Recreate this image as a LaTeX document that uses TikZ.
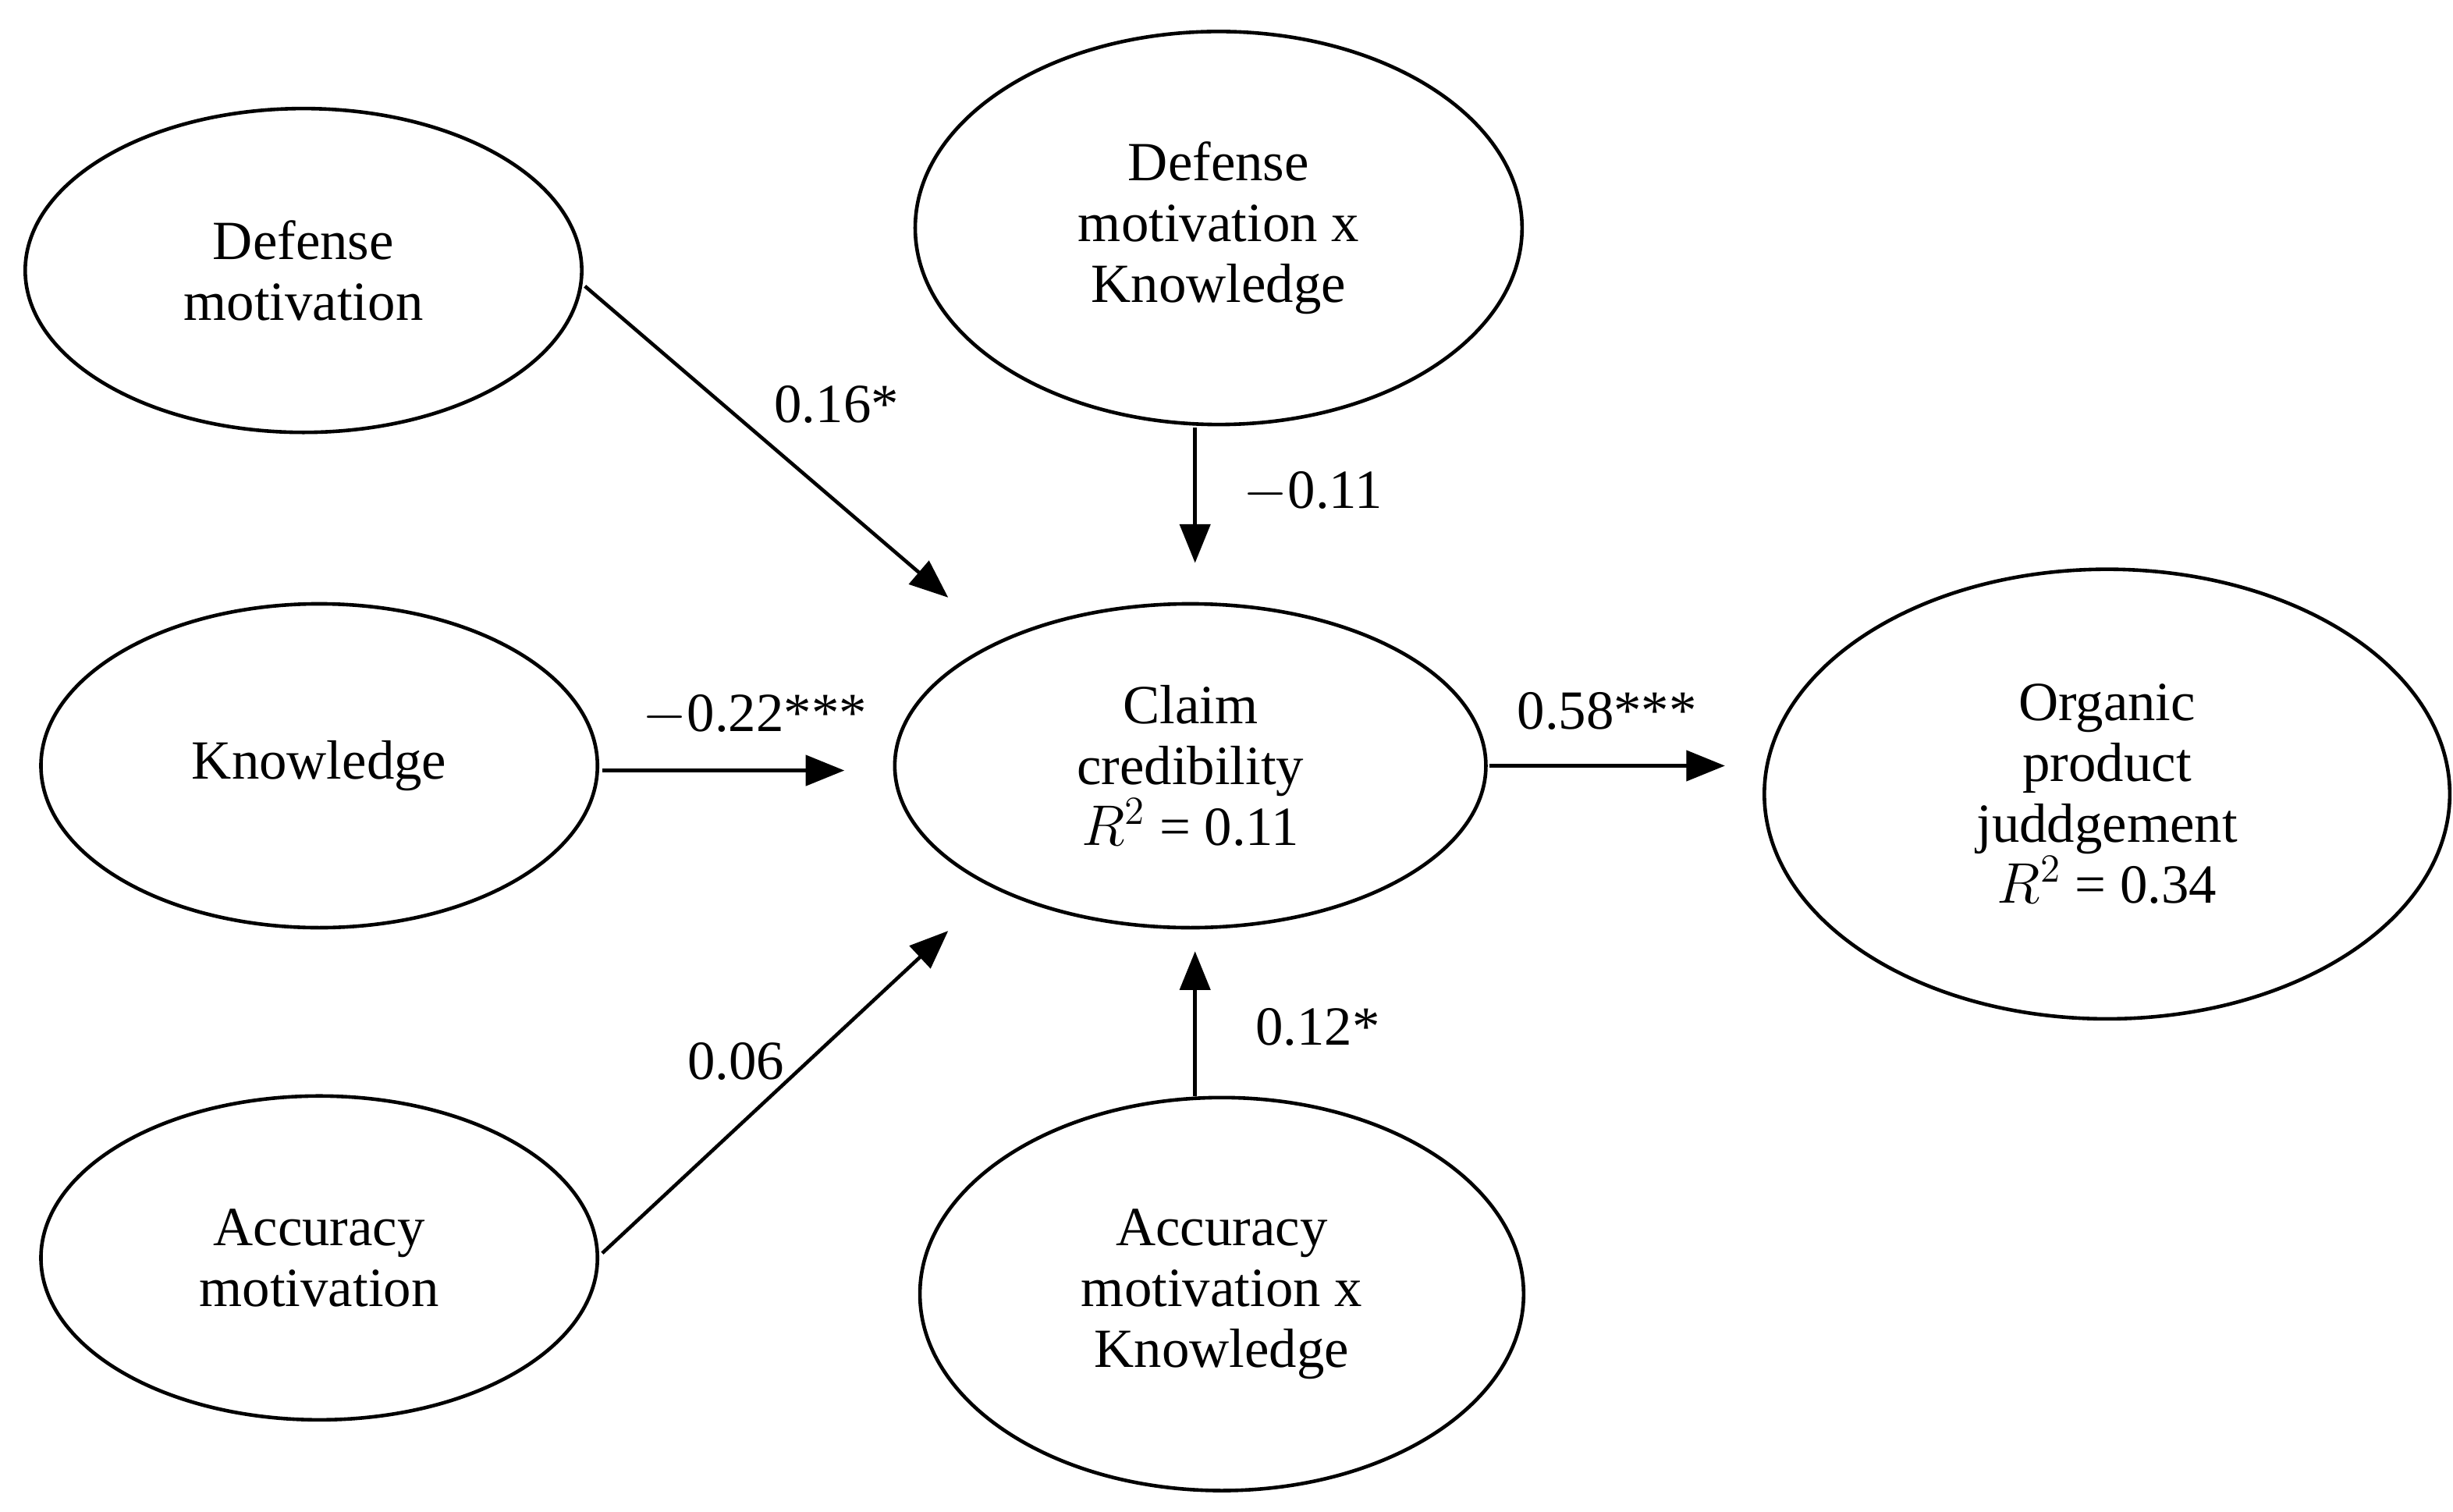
\documentclass[tikz,border=0pt]{standalone}
\usepackage{fontspec}
\setmainfont{Liberation Serif}
\usetikzlibrary{shapes.geometric,arrows.meta}
\begin{document}
\begin{tikzpicture}[x=0.02cm,y=-0.02cm,
  el/.style={draw,line width=1.3pt,ellipse,minimum width=#1},
  lab/.style={font=\fontsize{20}{22}\selectfont},
  arr/.style={line width=1.3pt,-{Triangle[length=14pt,width=11pt]}},
  every node/.style={font=\fontsize{20}{22}\selectfont,align=center}]
\useasboundingbox (0,0) rectangle (1560,961.6);
\node[draw,line width=1.3pt,ellipse,minimum width=354\pgflinewidth,inner sep=0pt,minimum width=7.08cm,minimum height=4.12cm] (dm) at (193,172) {Defense\\motivation};
\node[draw,line width=1.3pt,ellipse,inner sep=0pt,minimum width=7.08cm,minimum height=4.12cm] (kn) at (203,487) {Knowledge};
\node[draw,line width=1.3pt,ellipse,inner sep=0pt,minimum width=7.08cm,minimum height=4.12cm] (am) at (203,800) {Accuracy\\motivation};
\node[draw,line width=1.3pt,ellipse,inner sep=0pt,minimum width=7.72cm,minimum height=5.0cm] (dk) at (775,145) {Defense\\motivation x\\Knowledge};
\node[draw,line width=1.3pt,ellipse,inner sep=0pt,minimum width=7.52cm,minimum height=4.12cm] (cc) at (757,487) {Claim\\credibility\\$R^2$ = 0.11};
\node[draw,line width=1.3pt,ellipse,inner sep=0pt,minimum width=7.68cm,minimum height=5.0cm] (ak) at (777,823) {Accuracy\\motivation x\\Knowledge};
\node[draw,line width=1.3pt,ellipse,inner sep=0pt,minimum width=8.72cm,minimum height=5.72cm] (og) at (1340,505) {Organic\\product\\juddgement\\$R^2$ = 0.34};
\coordinate (e1) at (603,380);
\coordinate (e2) at (537,490);
\coordinate (e3) at (603,592);
\coordinate (e4) at (760,358);
\coordinate (e5) at (760,605);
\coordinate (e6) at (1097,487);
\coordinate (s4) at (760,272);
\coordinate (s5) at (760,697);
\coordinate (s1) at (372,182);
\coordinate (s2) at (383,490);
\coordinate (s3) at (383,797);
\coordinate (s6) at (947,487);
\draw[arr] (s1) -- (e1);
\draw[arr] (s2) -- (e2);
\draw[arr] (s3) -- (e3);
\draw[arr] (s4) -- (e4);
\draw[arr] (s5) -- (e5);
\draw[arr] (s6) -- (e6);
\node at (532,257) {0.16*};
\node at (480,455) {$-$0.22***};
\node at (468,675) {0.06};
\node at (835,313) {$-$0.11};
\node at (838,653) {0.12*};
\node at (1022,452) {0.58***};
\end{tikzpicture}
\end{document}
